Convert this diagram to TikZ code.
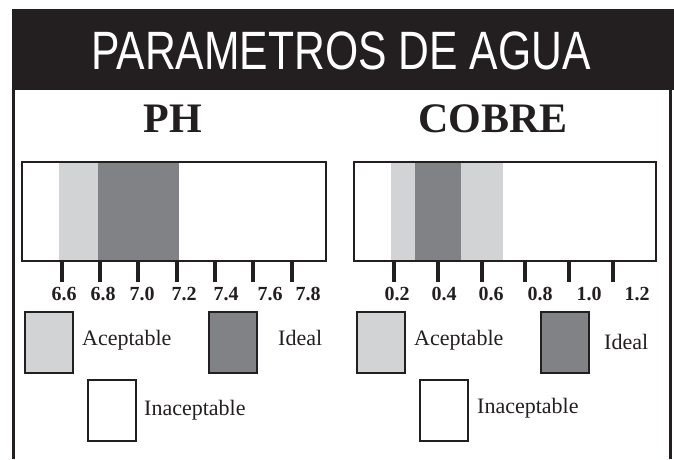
\documentclass[tikz,border=0pt]{standalone}
\usepackage{fontspec}
\setmainfont{Liberation Serif}
\newfontfamily\titlefont{Liberation Sans}
\definecolor{ink}{HTML}{231F20}
\definecolor{lightg}{HTML}{D1D3D4}
\definecolor{darkg}{HTML}{808285}
\tikzset{
  legbox/.style={draw=ink, line width=2pt, minimum width=48pt, minimum height=61pt, inner sep=0pt, anchor=north west},
  legtext/.style={anchor=base west, inner sep=0pt, text=ink, font=\fontsize{22}{22}\selectfont},
  ticklab/.style={anchor=base, inner sep=0pt, text=ink, font=\bfseries\fontsize{20}{20}\selectfont},
  tickmark/.style={draw=ink, line width=3.6pt},
  barframe/.style={draw=ink, line width=2pt},
  heading/.style={anchor=base, inner sep=0pt, text=ink, font=\bfseries\fontsize{42}{42}\selectfont}
}
\begin{document}
\begin{tikzpicture}[x=1pt,y=-1pt]
\useasboundingbox (0,0) rectangle (674,459);
\fill[white] (0,0) rectangle (674,459);
% header
\fill[ink] (12,9) rectangle (674,90);
\node[anchor=base, inner sep=0pt, text=white, font=\titlefont\fontsize{54}{54}\selectfont] (title) at (341,69) {\scalebox{0.79}[1]{PARAMETROS DE AGUA}};
% side borders
\draw[ink, line width=3pt] (13.5,90) -- (13.5,459);
\draw[ink, line width=3pt] (670,90) -- (670,459);
% headings
\node[heading] (ph) at (173,132) {PH};
\node[heading] (cobre) at (493,132) {COBRE};
% PH bar
\fill[lightg] (59,162) rectangle (98,261);
\fill[darkg] (98,162) rectangle (179,261);
\draw[barframe] (22,162) rectangle (326,261);
\foreach \x in {62,100,138,177,215,253,292} \draw[tickmark] (\x,262) -- (\x,282);
\foreach \x/\t in {64/6.6,103/6.8,142/7.0,184/7.2,226/7.4,270/7.6,308/7.8} \node[ticklab] at (\x,300) {\t};
% COBRE bar
\fill[lightg] (391,162) rectangle (415,261);
\fill[darkg] (415,162) rectangle (461,261);
\fill[lightg] (461,162) rectangle (503,261);
\draw[barframe] (354,162) rectangle (656,261);
\foreach \x in {394,438,482,525,569,613} \draw[tickmark] (\x,262) -- (\x,282);
\foreach \x/\t in {397/0.2,444/0.4,491/0.6,540/0.8,589/1.0,637/1.2} \node[ticklab] at (\x,300) {\t};
% legend left
\node[legbox, fill=lightg] (accL) at (24,311) {};
\node[legtext] (accLt) at (82,345) {Aceptable};
\node[legbox, fill=darkg] (ideL) at (208,311) {};
\node[legtext] (ideLt) at (278,345) {Ideal};
\node[legbox, fill=white] (inaL) at (87,379) {};
\node[legtext] (inaLt) at (144,415) {Inaceptable};
% legend right
\node[legbox, fill=lightg] (accR) at (356,311) {};
\node[legtext] (accRt) at (414,345) {Aceptable};
\node[legbox, fill=darkg] (ideR) at (540,311) {};
\node[legtext] (ideRt) at (604,349) {Ideal};
\node[legbox, fill=white] (inaR) at (419,379) {};
\node[legtext] (inaRt) at (477,413) {Inaceptable};
\end{tikzpicture}
\end{document}
